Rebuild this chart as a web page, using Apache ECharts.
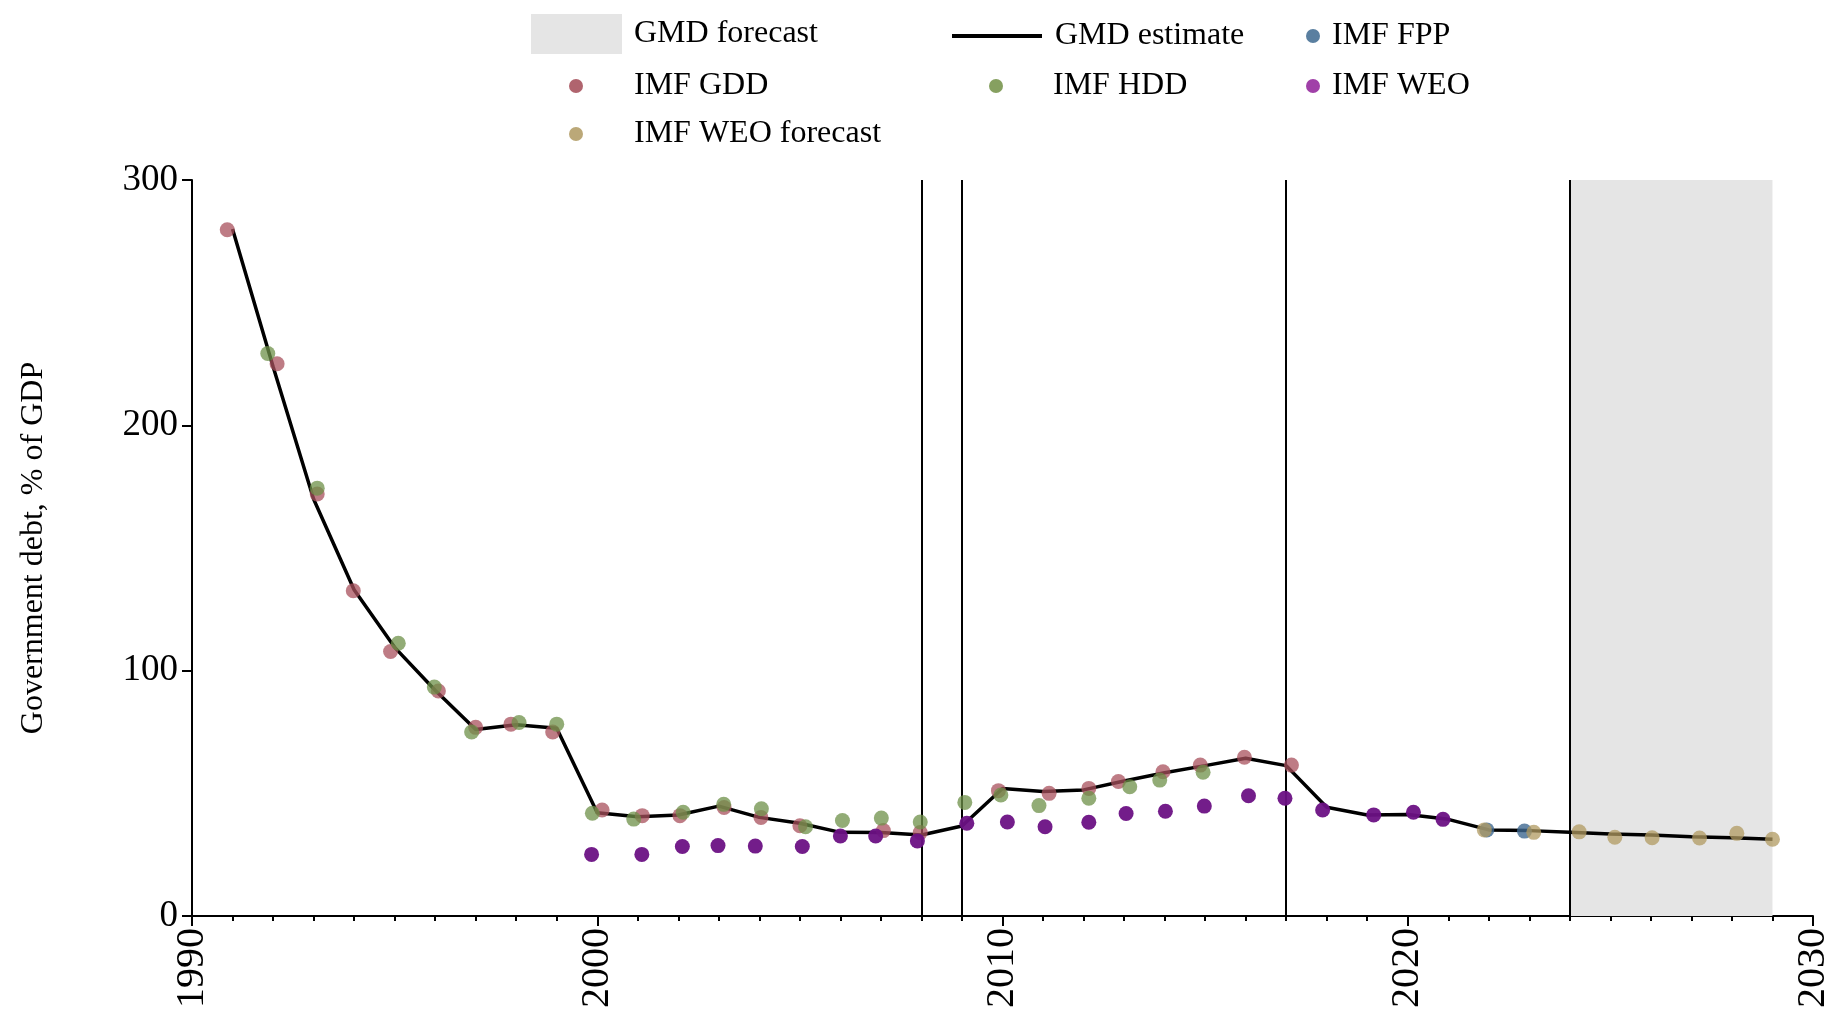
<!DOCTYPE html>
<html>
<head>
<meta charset="utf-8">
<script src="https://cdn.jsdelivr.net/npm/echarts@6/dist/echarts.min.js"></script>
<style>
  html, body { margin: 0; padding: 0; background: #fff; }
  #chart { width: 1837px; height: 1019px; }
</style>
</head>
<body>
<div id="chart"></div>
<script>
// GMD estimate, one value per year
var estYears = [1991, 1992, 1993, 1994, 1995, 1996, 1997, 1998, 1999, 2000,
  2001, 2002, 2003, 2004, 2005, 2006, 2007, 2008, 2009, 2010,
  2011, 2012, 2013, 2014, 2015, 2016, 2017, 2018, 2019, 2020,
  2021, 2022, 2023, 2024, 2025, 2026, 2027, 2028, 2029];
var estValues = [280, 224, 170, 133, 109.5, 92, 76, 78, 76.5, 42.1,
  40.5, 41.2, 44.8, 40.2, 37.8, 34.1, 34.0, 33.0, 36.7, 52.0,
  50.7, 51.4, 55.0, 58.4, 61.3, 64.3, 61.3, 44.3, 41.2, 41.4,
  39.4, 35.1, 34.8, 34.1, 33.4, 33.0, 32.3, 31.9, 31.3];

// source points: [year (slightly dodged), value]
var gddPoints = [[1990.87, 279.7], [1992.1, 225.1], [1993.09, 172], [1993.98, 132.6], [1994.9, 107.8],
  [1996.08, 91.7], [1997.0, 76.9], [1997.87, 78.2], [1998.9, 75.0], [2000.12, 43.2],
  [2001.11, 40.9], [2002.04, 40.9], [2003.13, 44.2], [2004.04, 40.2], [2005.0, 36.8],
  [2007.06, 34.8], [2007.97, 34.0], [2009.9, 51.1], [2011.15, 50.0], [2012.13, 52.0],
  [2012.86, 54.8], [2013.96, 58.8], [2014.88, 61.5], [2015.97, 64.7], [2017.13, 61.5]];
var hddPoints = [[1991.87, 229.3], [1993.09, 174.4], [1995.09, 111.2], [1995.98, 93.3], [1996.9, 75.0],
  [1998.07, 78.9], [1999.0, 78.2], [1999.88, 41.9], [2000.9, 39.5], [2002.12, 42.3],
  [2003.12, 45.5], [2004.05, 43.7], [2005.14, 36.4], [2006.05, 38.9], [2007.01, 39.9],
  [2007.97, 38.3], [2009.07, 46.3], [2009.96, 49.3], [2010.9, 45.0], [2012.13, 48.0],
  [2013.14, 52.7], [2013.88, 55.4], [2014.95, 58.6]];
var weoPoints = [[1999.86, 25.1], [2001.1, 25.1], [2002.1, 28.3], [2002.98, 28.7], [2003.9, 28.5],
  [2005.06, 28.3], [2006.0, 32.6], [2006.87, 32.6], [2007.9, 30.6], [2009.12, 37.8],
  [2010.12, 38.3], [2011.05, 36.4], [2012.13, 38.2], [2013.05, 41.8], [2014.02, 42.7],
  [2014.98, 44.8], [2016.07, 49.0], [2016.97, 48.0], [2017.9, 43.2], [2019.16, 41.2],
  [2020.14, 42.3], [2020.87, 39.4]];
var fppPoints = [[2021.95, 35.1], [2022.88, 34.6]];
var weoForecastPoints = [[2021.89, 35.1], [2023.11, 34.1], [2024.23, 34.3], [2025.11, 32.1],
  [2026.03, 31.9], [2027.2, 31.8], [2028.12, 33.7], [2029.0, 31.3]];

var eventYears = [2008, 2009, 2017, 2024];
var forecastRange = [2024, 2029];

var yTicks = [0, 100, 200, 300];
var xTicks = [1990, 2000, 2010, 2020, 2030];

var chart = echarts.init(document.getElementById("chart"));
var serif = "Liberation Serif";

// one legend per item so each sits where the original has it
function legendAt(name, left, top, opts) {
  var item = { name: name };
  if (opts.icon) item.icon = opts.icon;
  if (opts.color) item.itemStyle = { color: opts.color, opacity: 1 };
  return {
    data: [item],
    left: left,
    top: top,
    padding: 0,
    itemWidth: opts.w || 14,
    itemHeight: opts.h || 14,
    selectedMode: false,
    lineStyle: { width: 4 },
    textStyle: {
      fontFamily: serif,
      fontSize: 32,
      color: "#000",
      lineHeight: 38,
      padding: [opts.padTop || 0, 0, 0, opts.pad],
    },
  };
}

function dots(name, data, color, opacity) {
  return {
    name: name,
    type: "scatter",
    data: data,
    symbolSize: 15,
    z: 5,
    itemStyle: { color: color, opacity: opacity },
  };
}

var option = {
  animation: false,
  backgroundColor: "#fff",
  legend: [
    legendAt("GMD forecast", 531, 13, { icon: "rect", w: 91, h: 40, pad: 7, padTop: 4, color: "#e5e5e5" }),
    legendAt("GMD estimate", 950, 17, { w: 90, h: 4, pad: 8 }),
    legendAt("IMF FPP", 1306, 17, { icon: "circle", pad: 7, color: "#5a7fa0" }),
    legendAt("IMF GDD", 569, 67, { icon: "circle", pad: 46, color: "#b0646e" }),
    legendAt("IMF HDD", 989, 67, { icon: "circle", pad: 45, color: "#86a060" }),
    legendAt("IMF WEO", 1306, 67, { icon: "circle", pad: 7, color: "#a040a8" }),
    legendAt("IMF WEO forecast", 569, 115, { icon: "circle", pad: 46, color: "#bba878" }),
  ],
  grid: { left: 192, right: 24, top: 180, bottom: 103, containLabel: false },
  xAxis: {
    type: "value",
    min: xTicks[0],
    max: xTicks[xTicks.length - 1],
    interval: 10,
    axisLine: { lineStyle: { color: "#000", width: 2 } },
    axisTick: { length: 10, lineStyle: { color: "#000", width: 2 } },
    minorTick: { show: true, splitNumber: 10, length: 5, lineStyle: { color: "#000", width: 2 } },
    splitLine: { show: false },
    axisLabel: {
      rotate: 90,
      margin: 12,
      fontFamily: serif,
      fontSize: 40,
      color: "#000",
      formatter: function (v) { return xTicks.indexOf(v) >= 0 ? String(v) : ""; },
    },
  },
  yAxis: {
    type: "value",
    min: yTicks[0],
    max: yTicks[yTicks.length - 1],
    interval: 100,
    name: "Government debt, % of GDP",
    nameLocation: "middle",
    nameGap: 142,
    nameTextStyle: { fontFamily: serif, fontSize: 32, color: "#000" },
    axisLine: { show: true, lineStyle: { color: "#000", width: 2 } },
    axisTick: { show: true, length: 10, lineStyle: { color: "#000", width: 2 } },
    splitLine: { show: false },
    axisLabel: { fontFamily: serif, fontSize: 37, color: "#000", margin: 14 },
  },
  series: [
    {
      name: "GMD forecast",
      type: "scatter",
      data: [],
      itemStyle: { color: "#e5e5e5" },
      z: 1,
      markArea: {
        silent: true,
        itemStyle: { color: "#e5e5e5" },
        data: [[{ xAxis: forecastRange[0] }, { xAxis: forecastRange[1] }]],
      },
    },
    {
      name: "events",
      type: "line",
      data: [],
      z: 2,
      markLine: {
        silent: true,
        symbol: "none",
        label: { show: false },
        lineStyle: { color: "#000", width: 2, type: "solid" },
        data: eventYears.map(function (y) { return { xAxis: y }; }),
      },
    },
    {
      name: "GMD estimate",
      type: "line",
      data: estYears.map(function (y, i) { return [y, estValues[i]]; }),
      symbol: "none",
      z: 3,
      lineStyle: { color: "#000", width: 3.5 },
      itemStyle: { color: "#000" },
    },
    dots("IMF GDD", gddPoints, "#a8505c", 0.75),
    dots("IMF HDD", hddPoints, "#6e9048", 0.75),
    dots("IMF WEO", weoPoints, "#6c1184", 0.95),
    dots("IMF FPP", fppPoints, "#3e6890", 0.8),
    dots("IMF WEO forecast", weoForecastPoints, "#b09a60", 0.75),
  ],
};

chart.setOption(option);
</script>
</body>
</html>
